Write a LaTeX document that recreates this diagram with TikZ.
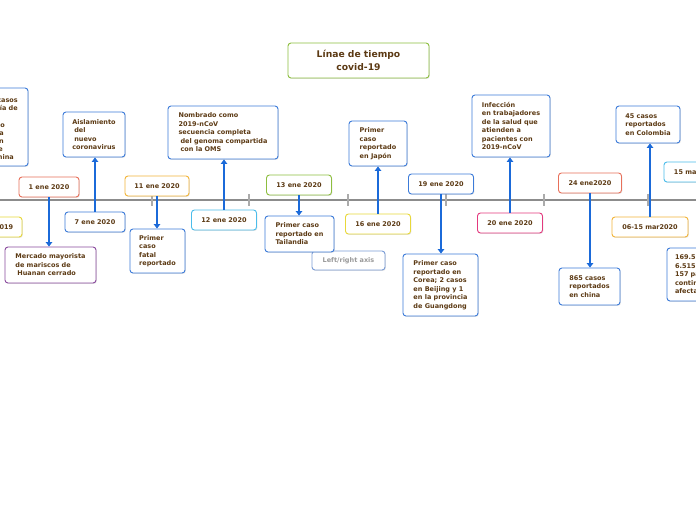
\documentclass[tikz,border=0pt]{standalone}
\usepackage{fontspec}
\setmainfont{DejaVu Sans}
\usetikzlibrary{arrows.meta,shadows}
\definecolor{txt}{HTML}{5C3A14}
\definecolor{bluebd}{HTML}{3C7BD9}
\definecolor{redbd}{HTML}{E8705A}
\definecolor{orabd}{HTML}{F2B53A}
\definecolor{yelbd}{HTML}{E8D83A}
\definecolor{cyanbd}{HTML}{4BBDEB}
\definecolor{greenbd}{HTML}{8DBE3F}
\definecolor{pinkbd}{HTML}{E3397E}
\definecolor{purbd}{HTML}{8A4A9E}
\definecolor{axisbd}{HTML}{7A9CD6}
\definecolor{axistxt}{HTML}{9A9A9A}
\definecolor{connc}{HTML}{1B6AD9}
\definecolor{linec}{HTML}{8C8C8C}
\definecolor{tickc}{HTML}{ABABAB}
\begin{document}
\begin{tikzpicture}[x=1pt,y=-1pt,
  font=\fontsize{6.5}{8.5}\selectfont\bfseries,
  box/.style={draw, rounded corners=3pt, fill=white, line width=0.9pt, text=txt,
    inner sep=0pt, drop shadow={shadow xshift=0.8pt, shadow yshift=-0.9pt, opacity=0.22}},
  ebox/.style={box, draw=bluebd, align=left},
  dbox/.style={box, minimum height=20pt, align=center},
  conn/.style={draw=connc, line width=1.6pt, -{Triangle[width=6.5pt,length=4.5pt]}},
  tick/.style={draw=tickc, line width=1.3pt},
  frag/.style={anchor=base east, text=txt, inner sep=0pt}
]
\useasboundingbox (0,0) rectangle (696,520);
\fill[white] (0,0) rectangle (696,520);
\clip (0,0) rectangle (696,520);

% timeline
\coordinate (tl0) at (-5,200);
\coordinate (tl1) at (701,200);
\draw[draw=linec, line width=2pt] (tl0) -- (tl1);
\foreach \tx in {152,249,348,446,544,648}{
  \coordinate (ta) at (\tx,194);
  \coordinate (tb) at (\tx,206);
  \draw[tick] (ta) -- (tb);
}

% title
\node[box, draw=greenbd, minimum width=141pt, minimum height=35pt, align=center,
  font=\fontsize{9.2}{12.5}\selectfont\bfseries] (title) at (358.5,60.5) {Línae de tiempo\\covid-19};

% left clipped box
\node[box, draw=bluebd, minimum width=98pt, minimum height=78pt] (e0) at (-21,127) {};
\node[frag] (f0) at (18,102.5) {Se reportan 27 casos};
\node[frag] (f1) at (18,110.7) {de neumonía de};
\node[frag] (f2) at (-3,118.9) {causa};
\node[frag] (f3) at (5,127.1) {desconocido};
\node[frag] (f4) at (4,135.3) {en la};
\node[frag] (f5) at (4,143.5) {ciudad de Wuhan};
\node[frag] (f6) at (3,151.7) {centro de};
\node[frag] (f7) at (14,159.9) {China};

% date boxes
\node[dbox, draw=yelbd, minimum width=60pt] (d0) at (-8,227) {31 dic 2019};
\node[dbox, draw=redbd, minimum width=60pt] (d1) at (49,187) {1 ene 2020};
\node[dbox, draw=bluebd, minimum width=60pt] (d2) at (95,222) {7 ene 2020};
\node[dbox, draw=orabd, minimum width=64pt] (d3) at (157,186) {11 ene 2020};
\node[dbox, draw=cyanbd, minimum width=65pt] (d4) at (224,220) {12 ene 2020};
\node[dbox, draw=greenbd, minimum width=65pt] (d5) at (299,185) {13 ene 2020};
\node[dbox, draw=yelbd, minimum width=65pt] (d6) at (378,224) {16 ene 2020};
\node[dbox, draw=bluebd, minimum width=65pt] (d7) at (441,184) {19 ene 2020};
\node[dbox, draw=pinkbd, minimum width=65pt] (d8) at (510,223) {20 ene 2020};
\node[dbox, draw=redbd, minimum width=63pt] (d9) at (590,183) {24 ene2020};
\node[dbox, draw=orabd, minimum width=76pt] (d10) at (650,227) {06-15 mar2020};
\node[dbox, draw=cyanbd, minimum width=66pt] (d11) at (697,172) {15 mar 2020};

% axis label
\node[box, draw=axisbd, text=axistxt, minimum width=73pt, minimum height=19pt] (axis) at (348.5,260.5) {Left/right axis};

% event boxes
\node[ebox, draw=purbd, minimum width=91pt, minimum height=36pt] (e1) at (50.5,265)
  {Mercado mayorista\\de mariscos de\\\hspace*{2pt}Huanan cerrado};
\node[ebox, minimum width=62pt, minimum height=45pt] (e2) at (94,134.5)
  {Aislamiento\\\hspace*{2pt}del\\\hspace*{2pt}nuevo\\coronavirus};
\node[ebox, minimum width=55pt, minimum height=44pt] (e3) at (157.5,251)
  {Primer\\caso\\fatal\\reportado};
\node[ebox, minimum width=110pt, minimum height=53pt] (e4) at (223,132.5)
  {Nombrado como\\2019-nCoV\\secuencia completa\\\hspace*{2pt}del genoma compartida\\\hspace*{2pt}con la OMS};
\node[ebox, minimum width=69pt, minimum height=36pt] (e5) at (299.5,234)
  {Primer caso\\reportado en\\Tailandia};
\node[ebox, minimum width=58pt, minimum height=45pt] (e6) at (378,143.5)
  {Primer\\caso\\reportado\\en Japón};
\node[ebox, minimum width=75pt, minimum height=62pt] (e7) at (440.5,285)
  {Primer caso\\reportado en\\Corea; 2 casos\\en Beijing y 1\\en la provincia\\de Guangdong};
\node[ebox, minimum width=78pt, minimum height=62pt] (e8) at (511,126)
  {Infección\\en trabajadores\\de la salud que\\atienden a\\pacientes con\\2019-nCoV};
\node[ebox, minimum width=61pt, minimum height=37pt] (e9) at (589.5,286.5)
  {865 casos\\reportados\\en china};
\node[ebox, minimum width=64pt, minimum height=37pt] (e10) at (648,124.5)
  {45 casos\\reportados\\en Colombia};
\node[ebox, minimum width=96pt, minimum height=53pt, text width=80pt, inner xsep=8pt] (e11) at (715,274.5)
  {169.510 casos\\6.515 muertes\\157 países y 6\\continentes\\afectados};

% connectors
\draw[conn] (d1.south) -- (d1.south |- e1.north);
\draw[conn] (d2.north) -- (d2.north |- e2.south);
\draw[conn] (d3.south) -- (d3.south |- e3.north);
\draw[conn] (d4.north) -- (d4.north |- e4.south);
\draw[conn] (d5.south) -- (d5.south |- e5.north);
\draw[conn] (d6.north) -- (d6.north |- e6.south);
\draw[conn] (d7.south) -- (d7.south |- e7.north);
\draw[conn] (d8.north) -- (d8.north |- e8.south);
\draw[conn] (d9.south) -- (d9.south |- e9.north);
\draw[conn] (d10.north) -- (d10.north |- e10.south);
\end{tikzpicture}
\end{document}
